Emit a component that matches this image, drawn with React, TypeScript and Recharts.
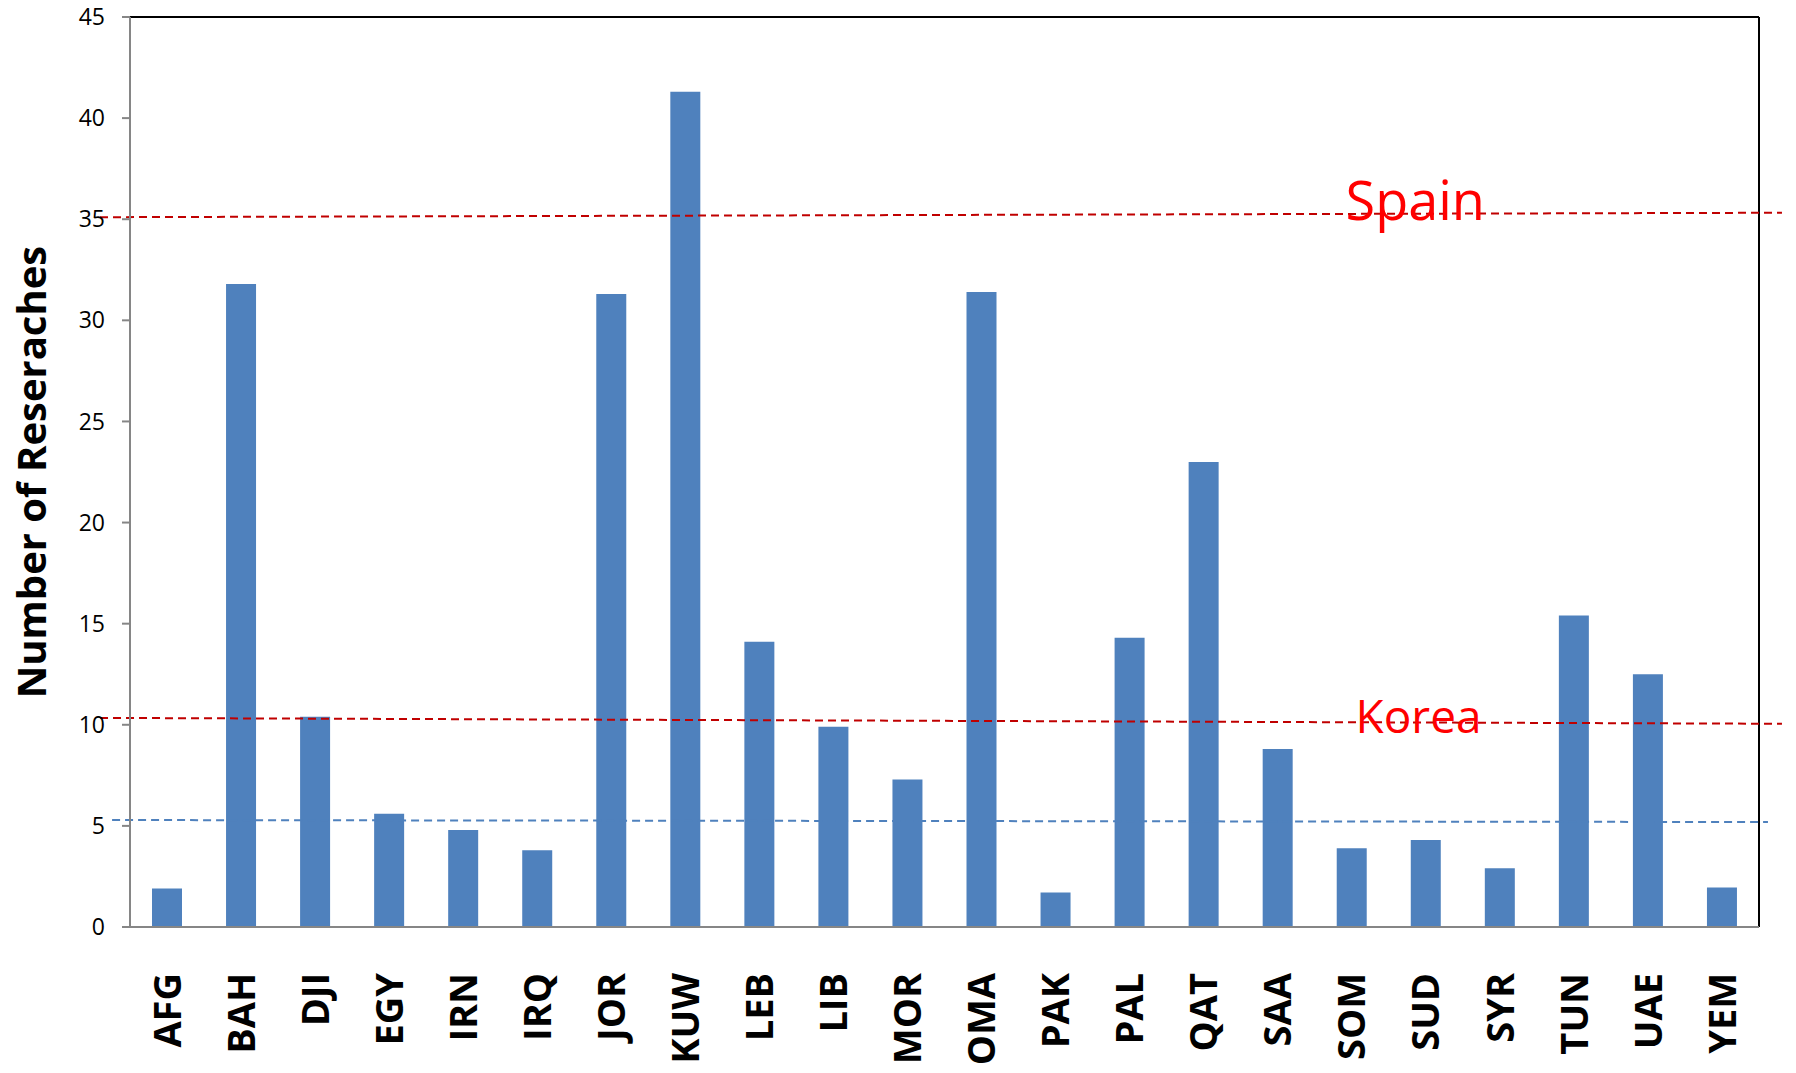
import { Bar, BarChart, ReferenceDot, ReferenceLine, XAxis, YAxis } from "recharts"

const countries = [
  "AFG", "BAH", "DJI", "EGY", "IRN", "IRQ", "JOR", "KUW", "LEB", "LIB", "MOR",
  "OMA", "PAK", "PAL", "QAT", "SAA", "SOM", "SUD", "SYR", "TUN", "UAE", "YEM",
]
const researches = [
  1.9, 31.8, 10.4, 5.6, 4.8, 3.8, 31.3, 41.3, 14.1, 9.9, 7.3,
  31.4, 1.7, 14.3, 23.0, 8.8, 3.9, 4.3, 2.9, 15.4, 12.5, 1.95,
]
const yTicks = [0, 5, 10, 15, 20, 25, 30, 35, 40, 45]

// benchmark lines, drawn slightly sloped as in the original
const spainLine = [{ x: -0.0184, y: 35.1 }, { x: 1.0141, y: 35.32 }]
const koreaLine = [{ x: -0.0184, y: 10.34 }, { x: 1.0141, y: 10.05 }]
const averageLine = [{ x: -0.011, y: 5.29 }, { x: 1.0055, y: 5.19 }]

const data = countries.map((name, i) => ({ name, value: researches[i] }))

const font = "'Open Sans', sans-serif"

function CountryTick(props: any) {
  const { x, y, payload } = props
  return (
    <g transform={`translate(${x},${y})`}>
      <text
        transform="rotate(-90)"
        x={-46}
        y={0}
        dy="0.36em"
        textAnchor="end"
        fontFamily={font}
        fontWeight={700}
        fontSize={38}
        fill="#000"
      >
        {payload.value}
      </text>
    </g>
  )
}

export default function App() {
  return (
    <div style={{ position: "absolute", left: 0, top: 0, background: "#fff" }}>
      <BarChart
        width={1796}
        height={1073}
        data={data}
        margin={{ top: 17, right: 37, bottom: 0, left: 0 }}
        barCategoryGap={0}
      >
        <XAxis
          dataKey="name"
          interval={0}
          height={146}
          tickSize={0}
          tickMargin={0}
          tickLine={false}
          axisLine={{ stroke: "#868686", strokeWidth: 2 }}
          tick={<CountryTick />}
        />
        <XAxis xAxisId="n" type="number" dataKey="pos" domain={[0, 1]} allowDataOverflow hide />
        <YAxis
          width={130}
          domain={[0, 45]}
          ticks={yTicks}
          interval={0}
          tickSize={8}
          tickMargin={17}
          axisLine={{ stroke: "#868686", strokeWidth: 2 }}
          tickLine={{ stroke: "#868686", strokeWidth: 2 }}
          tick={{ fontFamily: font, fontSize: 23, fill: "#000" }}
          label={{
            value: "Number of Reseraches",
            angle: -90,
            position: "insideLeft",
            dx: 27,
            style: { textAnchor: "middle", fontFamily: font, fontWeight: 700, fontSize: 40, fill: "#000" },
          }}
        />
        <Bar dataKey="value" fill="#4F81BD" barSize={30} isAnimationActive={false} />
        <ReferenceLine y={45} stroke="#000" strokeWidth={2} />
        <ReferenceLine xAxisId="n" x={1} stroke="#000" strokeWidth={2} />
        <ReferenceLine
          xAxisId="n"
          segment={spainLine}
          ifOverflow="visible"
          stroke="#C00000"
          strokeWidth={2}
          strokeDasharray="8 5"
        />
        <ReferenceLine
          xAxisId="n"
          segment={koreaLine}
          ifOverflow="visible"
          stroke="#C00000"
          strokeWidth={2}
          strokeDasharray="8 5"
        />
        <ReferenceLine
          xAxisId="n"
          segment={averageLine}
          ifOverflow="visible"
          stroke="#4F81BD"
          strokeWidth={2}
          strokeDasharray="8 5"
        />
        <ReferenceDot
          xAxisId="n"
          x={0.789}
          y={35.9}
          r={0}
          ifOverflow="visible"
          label={{ value: "Spain", position: "center", fill: "#FF0000", fontSize: 54, fontFamily: font }}
        />
        <ReferenceDot
          xAxisId="n"
          x={0.791}
          y={10.39}
          r={0}
          ifOverflow="visible"
          label={{ value: "Korea", position: "center", fill: "#FF0000", fontSize: 46, fontFamily: font }}
        />
      </BarChart>
    </div>
  )
}
